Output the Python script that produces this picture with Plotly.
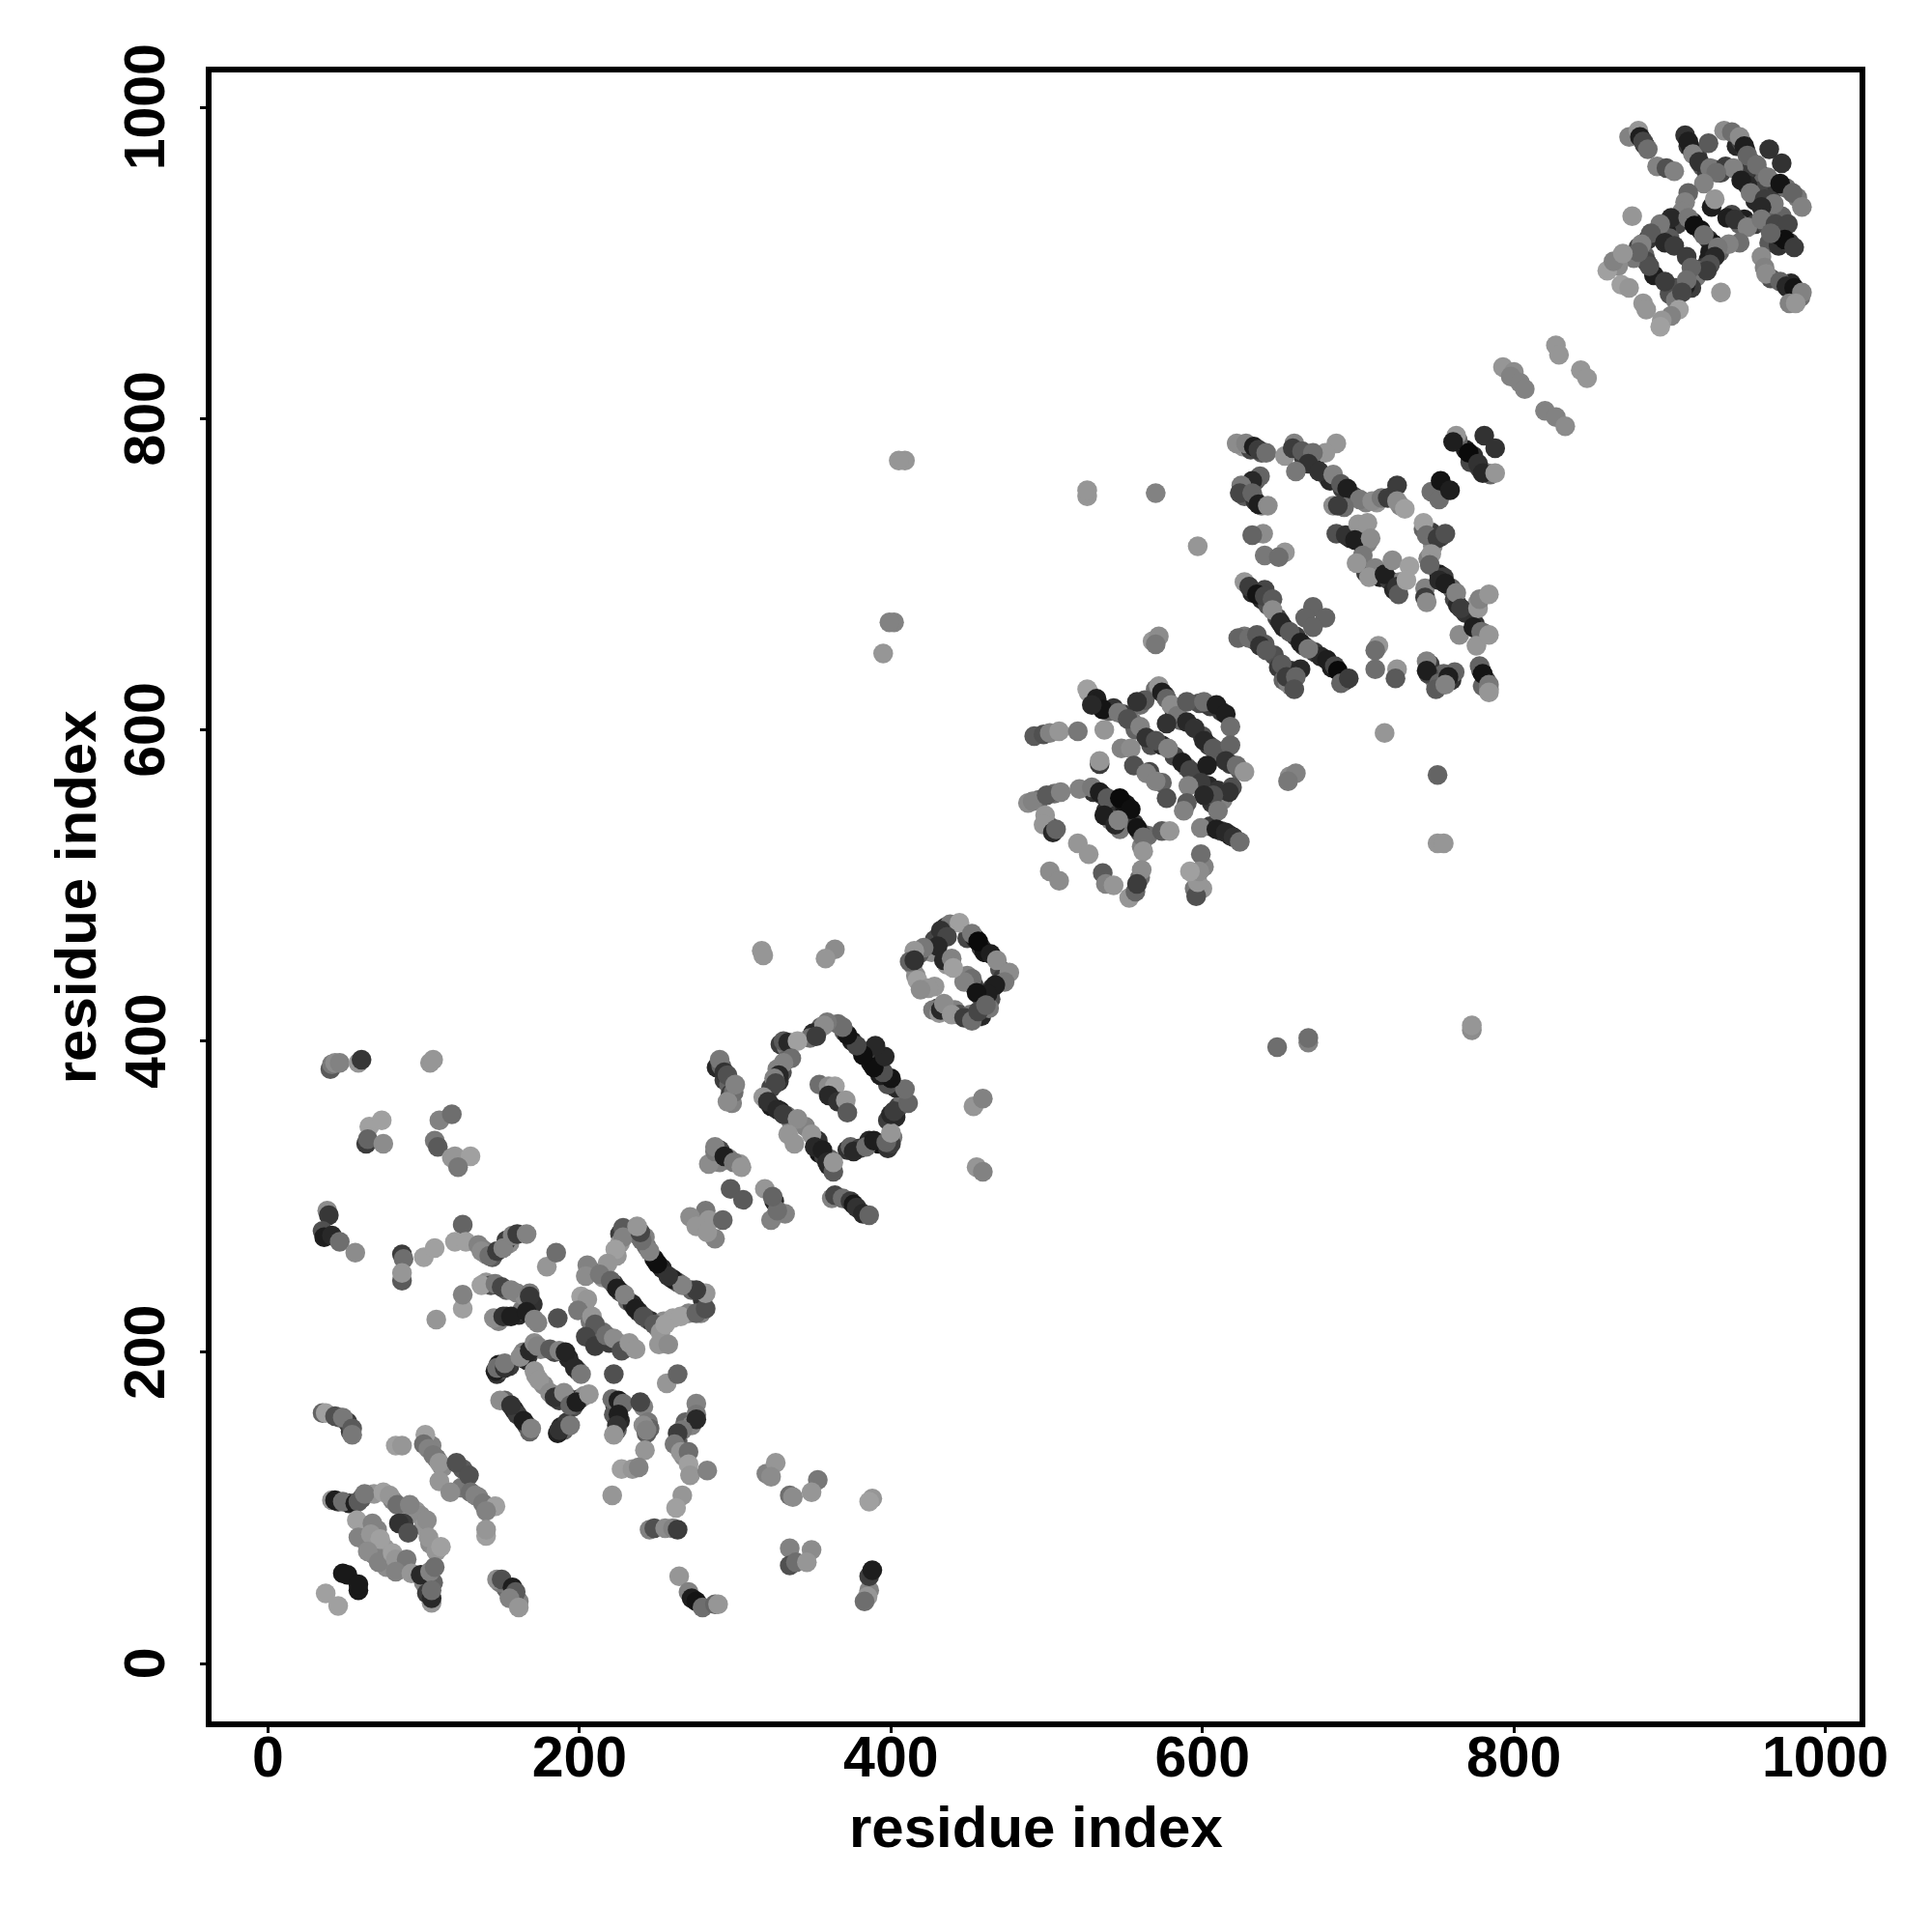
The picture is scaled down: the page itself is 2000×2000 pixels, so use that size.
import plotly.graph_objects as go

# (residue i, residue j, grey level of the dot)
block_a = [(40,382,90),(41,385,120),(43,386,140),(46,386,130),(58,386,150),(60,388,55),(104,386,150),(106,388,150),
(65,345,160),(73,349,160),(63,334,60),(64,337,100),(74,334,140),(110,349,130),(118,353,110),(107,336,120),(109,332,90),
(118,325,150),(120,326,150),(130,326,160),(122,319,120),
(38,291,140),(39,288,55),(35,278,80),(36,274,30),(41,275,40),(46,271,110),(56,264,140),
(86,263,60),(87,260,110),(86,246,90),(86,251,150),(100,261,160),(107,267,160),(125,282,100),(120,271,160),(127,271,160),
(135,269,130),(137,265,140),(142,262,110),(147,265,60),(151,267,130),(157,275,130),(160,276,60),(166,276,130),(179,255,150),(185,264,110),
(137,243,160),(146,244,120),(150,242,70),(156,240,130),(168,238,120),(168,236,55),(125,228,160),(125,237,130),(108,221,150),
(145,222,140),(151,223,50),(156,223,30),(166,226,30),(171,221,130),(186,222,80)]
block_b = [(228,280,90),(228,274,130),(223,266,160),(218,257,150),(205,256,130),(204,249,140),(213,250,120),(220,246,100),(224,241,30),
(229,237,130),(236,228,30),(241,223,80),(248,218,90),(252,213,150),(251,205,150),(257,205,140),(255,218,160),(265,223,160),(275,225,100),(281,228,80),(281,238,150),
(275,240,60),(266,243,130),(257,249,50),(250,257,15),(245,265,130),(240,272,110),(239,277,70),(237,281,150),
(201,236,160),(205,234,150),(199,227,120),(208,223,150),(210,218,90),(204,210,70),(210,204,60),(217,211,110),(222,209,140),(227,201,80),(232,206,150),(236,202,150),(222,186,80)]
block_c = [(146,188,30),(147,190,110),(152,190,50),(152,193,120),(165,198,30),(162,197,140),(168,201,40),(171,206,140),(173,204,130),(181,202,90),(187,201,130),(191,200,35),
(197,190,40),(201,186,120),(171,188,150),(174,182,150),(181,174,140),(184,171,50),(190,174,140),(194,166,100),(198,168,30),(206,173,150),
(149,169,140),(156,166,50),(164,156,30),(169,151,130),(186,148,30),(187,150,50),(194,153,120),(221,170,110),(225,169,30),(228,167,110),(225,160,30),(224,153,50),(222,147,150),
(239,168,70),(241,153,140),(243,148,90),(243,150,130),(242,137,150),(275,167,130),(275,160,120),(275,157,40),(266,150,120),(263,148,60),(261,141,120),(265,136,150),(270,136,110),
(270,128,160),(271,121,150),(282,124,130),(256,180,150),(263,186,100)]
block_d = [(35,161,100),(37,161,160),(43,159,80),(48,158,120),(54,151,90),(54,147,120),
(82,140,160),(86,140,150),(101,147,160),(100,141,110),(103,138,130),(106,134,120),(110,129,150),(121,129,80),(129,121,80),(110,117,150),(117,110,140),
(130,110,110),(133,108,130),(138,103,120),(146,101,160),(140,98,130),(140,82,160),(140,86,150),
(41,105,150),(43,105,30),(48,104,110),(56,103,30),(58,104,90),(62,109,120),(74,110,160),(78,108,150),(83,102,110),(91,102,130),(102,92,140),(103,81,150),(111,75,160),
(57,92,160),(67,90,130),(58,81,130),(66,83,150),(72,80,160),(84,90,50),(90,84,80),(64,72,140),(71,65,130),(80,71,160),(82,67,150),(89,67,120),(82,59,130),(92,58,150),
(98,57,40),(104,59,130),(107,62,110),(105,39,150),(105,42,40),(105,47,110),(48,58,25),(51,57,25),(58,47,25),(58,51,25),(37,45,160),(45,37,160),
(147,54,140),(150,54,80),(157,49,30),(159,46,90),(155,42,130),(161,36,150),
(227,125,160),(234,125,150),(238,126,130),(221,108,150),(266,108,150),(262,100,160),(245,86,130),(248,87,80),(255,87,140),(260,87,130),(263,86,60),
(264,56,150),(270,46,130),(272,42,30),(275,40,20),(279,36,110),(287,38,100),(289,38,150),
(320,122,130),(326,129,150),(323,120,140),(335,108,110),(337,107,140),(353,118,120),(349,110,150),(335,74,130),(349,73,140),(335,63,80),(339,65,110),(346,65,150),
(388,106,150),(386,104,160),(386,47,130),(385,43,150),(383,40,110),(386,56,60),(388,60,30)]
block_e = [(281,291,120),(271,287,140),(283,285,150),(275,281,150),(292,285,100),(287,273,130),(282,277,150),(283,321,140),(287,329,120),(295,325,130),(303,321,150),
(297,305,90),(305,298,90),(319,305,150),(325,297,40),(323,285,130),(332,289,130),(327,291,110),(324,300,100),
(290,388,120),(293,380,50),(295,378,80),(299,367,110),(295,361,140),(300,372,130),(287,332,130),(293,326,30),(299,322,120),(304,319,150),
(362,299,130),(364,301,70),(369,299,110),(374,297,60),(376,295,25),(378,293,50),(382,289,40),(386,288,100)]
block_f = [(331,400,90),(334,399,40),(340,400,160),(336,389,110),(331,386,130),(328,378,40),(325,376,130),(326,373,70),(318,364,150),(321,361,50),(327,356,40),(331,353,60),
(340,350,140),(334,340,150),(338,334,150),(349,340,150),(351,332,40),(356,330,30),(359,322,40),(363,316,90),(363,322,150),(376,329,40),(384,332,110),(389,336,30),(400,334,60),(397,335,100),(400,341,150),
(400,353,40),(402,355,60),(411,360,100),(409,369,110),(400,376,20),(395,380,80),(389,383,15),(396,390,40),(390,397,40),(382,391,15),(378,397,70),(372,404,20),(369,409,110),(359,412,120),(357,410,140),(352,403,60),
(354,372,110),(360,371,140),(364,371,160),(360,365,40),(366,361,50),(371,362,150),(372,354,90),
(317,458,150),(318,455,150),(364,459,140),(358,453,150),(453,358,150),(459,363,130),(455,319,150),(459,316,130)]
block_g = [(438,475,120),(444,476,160),(432,471,50),(436,467,70),(430,461,40),(421,460,120),(415,458,150),(412,451,100),(415,452,50),(452,469,120),(456,464,10),(464,456,30),(468,452,140),
(476,444,140),(473,438,120),(467,436,30),(462,430,30),(452,440,110),(447,438,130),(455,431,20),(434,452,40),(439,453,130),(440,447,160),(417,439,160),(424,434,150),(419,433,140),
(432,420,40),(434,424,140),(439,417,150),(447,415,60),(452,413,110),(456,419,70),(461,423,100)]
block_h = [(527,624,150),(526,626,160),(532,620,30),(536,613,20),(529,616,40),(546,611,120),(552,607,80),(560,602,130),(563,619,90),(558,618,50),(572,628,150),(574,624,30),(577,620,100),
(580,616,140),(584,609,120),(590,605,40),(577,604,50),(590,618,90),(601,618,110),(609,616,30),(615,610,30),(618,602,110),(595,601,50),(601,593,40),(607,588,90),(618,590,100),
(615,580,50),(622,577,110),(627,573,150),(564,595,50),(570,593,80),(578,588,130),(587,579,30),(592,574,70),(603,577,30),(599,566,60),(591,564,130),(619,563,80),(617,560,50),
(607,558,80),(601,558,40),(610,548,120),(590,553,90),(588,548,130),(599,537,130),(609,536,30),(615,534,40),(620,531,50),(624,528,110),
(599,520,110),(596,493,80),(597,502,150),(598,509,140),(592,509,160),
(492,596,90),(498,597,80),(502,598,130),(508,599,150),(520,599,120),(537,600,150),(548,588,130),(554,588,140),(534,578,60),(534,580,150),
(556,577,80),(566,573,70),(564,572,130),(574,566,100),(577,556,80),(570,567,130),
(491,554,130),(500,558,90),(509,560,130),(521,562,130),(529,563,120),(534,560,30),(539,556,90),(547,556,10),(554,549,15),(537,545,30),(544,539,40),(546,542,130),(558,537,20),(562,531,110),
(562,522,150),(561,510,140),(553,492,150),(557,496,100),(558,501,60),(499,545,150),(498,539,150),(504,534,40),(506,536,100),
(520,527,150),(527,520,150),(502,509,140),(508,503,140),(536,508,90),(538,501,130),(543,500,150),(574,535,90),(579,535,150)]
block_i = [(622,784,140),(628,784,130),(633,782,30),(636,780,60),(641,778,110),(653,776,150),(659,784,130),(658,781,60),(664,779,90),(686,784,150),(679,778,150),(671,778,110),
(668,771,50),(660,766,120),(675,766,50),(684,764,130),(689,758,90),(693,755,30),(701,748,120),(709,747,140),(715,749,120),(719,749,60),(725,757,60),(725,747,140),(730,742,160),
(684,744,140),(691,743,110),(687,744,60),(637,763,100),(632,760,40),(625,757,120),(624,752,70),(632,752,100),(636,745,30),(642,744,140),
(639,726,140),(632,725,100),(640,712,120),(653,714,150),(649,711,110),
(686,726,80),(692,725,50),(700,732,150),(706,733,150),(698,722,30),(708,723,140),(703,712,120),(699,707,150),(711,704,130),(707,698,150),(717,700,30),(722,709,140),(733,705,160),(725,692,50),(726,687,90),(731,696,160),
(742,733,160),(744,725,110),(751,723,60),(756,726,80),(747,713,150),(746,706,100),(743,691,130),(743,685,60),(744,682,140),
(752,696,40),(756,694,30),(763,688,130),(766,678,60),(777,678,150),(778,684,130),(784,687,150),(765,661,140),(774,666,30),(779,663,110),(776,654,150),(784,661,150),
(763,789,150),(761,785,30),(771,778,10),(777,771,50),(780,765,40),(788,765,150),(781,789,50),(788,781,50),(747,753,110),(752,748,110),(753,760,20),(759,754,30),
(627,695,150),(630,692,60),(635,687,20),(640,686,70),(645,684,90),(645,677,140),(650,669,40),(656,663,90),(663,656,30),(668,652,120),(680,645,30),(685,641,70),(687,638,10),(689,630,100),(694,633,60),
(623,659,100),(630,659,110),(635,661,90),(637,654,50),(641,651,90),(651,642,90),(654,634,60),(663,639,40),(660,634,100),(659,626,80),
(671,679,100),(666,672,100),(679,672,100),(671,666,100),(713,654,150),(711,651,110),(711,639,110),(725,639,150),(724,633,90),
(744,644,130),(744,638,30),(752,630,100),(750,626,90),(762,637,100),(758,634,30),(756,629,130),(778,641,100),(780,636,20),(784,629,120),(784,624,150)]
block_j = [(874,981,130),(880,985,150),(881,981,30),(883,978,70),(886,973,110),(892,962,130),(898,961,80),(903,959,130),
(910,982,50),(912,978,30),(915,970,130),(925,977,90),(935,985,140),(940,984,110),(945,981,140),(948,975,30),(950,969,100),(956,963,110),(964,973,50),(972,964,50),(919,965,50),(926,961,120),
(936,962,60),(941,961,130),(930,958,110),(946,953,30),(963,955,120),(971,951,20),(979,945,100),(985,936,130),(952,945,120),(961,941,60),(967,938,120),(959,936,40),
(922,951,130),(927,936,30),(929,941,150),(912,945,100),(910,939,130),(908,933,130),(901,929,40),(894,925,120),(888,919,90),(882,912,130),(897,913,40),(903,911,60),
(937,929,30),(942,928,50),(950,923,130),(959,928,120),(968,925,70),(976,925,70),(974,915,15),(980,910,60),(965,919,100),
(912,929,120),(916,924,15),(922,918,110),(945,913,110),(938,912,130),(931,910,120),(929,904,40),(926,899,80),(924,895,60),(911,904,60),(914,897,100),(911,889,110),(908,881,70),(897,888,60),(887,898,80),(880,907,100),
(860,895,160),(864,901,130),(870,906,150),(869,886,160),(874,884,150),(883,874,150),(885,870,150),(906,870,160),(901,866,130),(895,863,150),(894,859,160),(933,881,150),(876,930,150),
(959,904,140),(961,897,130),(962,893,140),(971,888,100),(975,885,40),(980,884,20),(985,881,130),(977,874,130),(981,874,150)]
block_k = [(793,833,150),(800,830,140),(798,827,130),(804,823,130),(807,819,130),(827,847,150),(829,841,150),(843,831,150),(847,826,150),(820,805,130),(827,801,130),(833,795,140),
(717,598,150),(751,571,100),(751,527,150),(755,527,150),(656,570,140),(660,572,130),(655,567,120),(648,396,110),(668,399,130),(668,402,110),(773,407,140),(773,410,150),
(570,752,130),(526,750,150),(526,754,150),(597,718,150),(409,773,150),(405,773,150),(402,669,130),(399,669,130),(395,649,150),(568,657,150),(572,660,140),(570,655,120)]

# dots hidden in the overlap along the strands, read from the thickness of each strand; drawn first
under_low = [(45,104,60),(52,103,40),(60,106,90),(68,109,150),(80,105,130),(87,100,150),(95,98,150),(98,95,140),(100,88,150),(104,77,140),(108,72,150),(62,87,150),(63,78,140),(70,86,130),(75,74,150),
(68,70,130),(76,62,140),(86,64,130),(87,90,60),(100,52,130),(102,45,60),(106,52,100),(161,40,130),(158,44,50),(153,48,100),(149,52,120),(105,140,130),(108,132,110),(112,126,140),(125,125,90),(135,107,130),(128,112,140),
(142,100,140),(124,113,120),(51,155,60),(46,158,90),(53,149,60),(153,223,80),(148,220,130),(161,224,40),(163,227,120),(168,228,30),(173,219,130),(140,245,150),(143,243,80),(153,240,100),(160,238,130),(165,236,140),(170,231,50),
(138,266,130),(140,263,140),(144,261,90),(155,270,140),(153,272,60),(147,186,50),(148,192,30),(150,189,100),(155,191,60),(164,200,130),(166,195,40),(167,198,50),(175,202,130),(184,200,70),(193,196,40),(199,188,120),(172,185,150),
(177,179,140),(183,172,100),(187,169,60),(192,171,40),(196,165,80),(200,170,60),(203,172,140),(152,169,100),(158,163,30),(160,160,60),(166,153,60),(168,149,100),(188,152,40),(190,150,100),(192,155,60),
(223,165,60),(222,160,90),(226,156,40),(224,150,100),(241,165,130),(244,155,120),(245,151,100),(268,155,100),(272,153,130),(263,143,90),(267,133,140),
(208,252,120),(215,248,150),(222,244,60),(226,239,70),(231,233,110),(234,231,40),(238,226,50),(244,221,110),(246,220,50),(250,216,120),(254,220,140),(260,222,160),(270,225,130),(278,225,130),(279,234,50),(272,240,100),(263,245,90),
(260,247,30),(253,254,40),(248,260,20),(243,268,110),(238,275,120),(230,277,110),(226,276,60),(226,270,150),(224,262,150),(242,274,130),(203,230,150),(207,220,120),(215,213,110),(219,206,60),(228,205,130),(230,203,120)]
under_mid = [(329,398,60),(333,396,120),(323,370,70),(320,362,40),(323,358,30),(329,355,20),(333,352,110),(336,348,120),(345,345,130),(353,336,50),(354,328,20),(357,326,60),(360,320,30),(361,324,100),(372,330,50),(374,332,100),
(380,331,60),(386,336,40),(392,334,20),(398,331,50),(401,338,120),(398,349,60),(403,351,40),(405,358,70),(408,363,110),(403,370,40),(398,372,80),(393,378,30),(387,386,20),(384,393,60),(375,400,30),(370,406,90),(366,411,110),(355,409,90),
(350,405,40),(348,402,110),(330,380,80),(333,388,100),(327,382,130),(328,374,50),(288,383,40),(291,384,100),(293,375,60),(296,372,100),(297,366,60),(298,360,130),(290,330,70),(296,324,70),(290,322,130),
(428,465,70),(433,468,90),(435,473,40),(426,457,140),(418,456,90),(414,449,130),(449,466,70),(454,466,30),(458,460,60),(460,457,20),(470,446,80),(472,441,60),(465,434,50),(458,428,70),(464,427,80),(449,442,130),(453,436,60),(436,449,150),
(428,435,150),(430,421,60),(441,420,130),(444,417,80),(451,417,120),(458,416,40),(463,421,120),(427,420,120),(431,418,150),(416,442,140),
(530,618,60),(534,615,130),(540,612,100),(543,614,50),(549,610,60),(555,605,120),(557,600,100),(560,616,110),(570,626,110),(576,622,60),(582,612,60),(586,606,100),(598,617,80),(605,615,60),(612,612,60),(600,596,80),(604,590,60),(610,586,50),
(613,582,100),(618,578,60),(624,574,90),(567,590,80),(574,590,40),(582,583,70),(590,576,100),(596,570,80),(604,564,40),(610,561,50),(613,555,130),(606,553,50),(605,538,60),(612,535,80),(618,532,30),(565,532,110),(561,525,130),(560,505,110),
(530,560,50),(536,558,70),(540,552,40),(542,545,30),(548,548,30),(551,552,20),(552,542,100),(556,540,60),(560,534,80),(538,548,50),(547,536,120),(541,542,130),(601,512,130),(596,507,140),(600,498,150),(595,498,120),(495,555,110),(488,553,140),
(505,559,110),(500,540,140),(503,537,70)]
under_high = [(626,782,150),(631,780,70),(638,778,90),(630,756,40),(627,750,90),(634,747,50),(638,744,120),(634,760,90),(665,775,60),(672,770,40),(680,763,100),(682,760,40),(690,755,60),(697,750,70),(705,746,130),(712,746,150),(722,750,100),(727,744,130),
(640,690,70),(632,688,40),(638,684,40),(642,680,80),(648,672,70),(652,666,40),(660,660,60),(665,654,60),(672,650,60),(676,647,40),(683,640,30),(692,632,40),(627,660,120),(633,658,60),(640,655,90),(646,648,80),(649,640,60),(652,632,100),
(657,628,100),(657,638,50),(655,630,130),(698,726,30),(695,723,40),(702,720,40),(706,720,130),(705,701,60),(714,698,30),(720,696,60),(727,695,130),(723,690,40),(742,729,100),(747,727,60),(753,724,70),(748,718,140),(745,710,130),(752,700,30),
(755,698,60),(760,691,100),(762,684,70),(764,680,40),(769,675,50),(775,668,50),(777,664,70),(781,662,140),(777,682,150),(769,780,30),(774,776,50),(772,772,70),(778,768,60),(783,765,130),(785,764,100),(764,786,100),
(746,642,60),(748,634,50),(754,632,40),(755,636,100),(760,632,50),(750,630,120),(779,638,40),(782,632,60),(780,628,100),(784,626,130),(745,636,70),
(884,976,50),(912,975,60),(914,973,30),(918,968,60),(921,962,90),(924,958,60),(928,960,40),(933,958,70),(943,975,40),(946,978,70),(949,972,60),(952,965,80),(955,960,130),(958,957,50),(960,952,100),(965,952,30),(968,948,60),(975,948,110),(982,942,120),
(955,940,40),(957,946,70),(963,933,50),(960,930,100),(972,930,100),(948,958,60),(950,950,40),(905,925,70),(898,920,30),(891,918,60),(886,915,50),(880,910,70),(900,916,90),(884,905,100),(915,926,30),(920,921,20),(925,915,50),(932,907,100),
(928,912,20),(926,907,30),(925,902,30),(922,897,60),(920,895,100),(917,891,120),(914,884,60),(910,885,30),(904,884,80),(900,880,80),(904,876,120),(890,892,30),(885,901,70),(877,903,120),(867,898,140),(948,928,30),(940,931,70),(945,925,100),
(955,925,60),(962,925,80),(964,913,90),(970,911,50),(970,918,20),(977,913,60),(976,884,60),(984,878,110),(978,887,40),(965,890,80)]

tick_values = [0, 200, 400, 600, 800, 1000]
axis_label = "residue index"

contacts = (under_low + under_mid + under_high + block_a + block_b + block_c + block_d + block_e + block_f
            + block_g + block_h + block_i + block_j + block_k)

fig = go.Figure(go.Scatter(
    x=[c[0] for c in contacts], y=[c[1] for c in contacts], mode="markers",
    marker=dict(size=20.5, color=[f"rgb({c[2]},{c[2]},{c[2]})" for c in contacts], line=dict(width=0)),
    hoverinfo="skip"))

tick_font = dict(family="Liberation Sans", size=59, color="black", weight="bold")
title_font = dict(family="Liberation Sans", size=60, color="black", weight="bold")
common = dict(showgrid=False, zeroline=False, showline=True, mirror=True, linecolor="black", linewidth=6,
              ticks="outside", ticklen=6, tickwidth=3, tickcolor="black", tickvals=tick_values, tickfont=tick_font)
y_tick_labels = [dict(text=str(v), font=tick_font, showarrow=False, textangle=-90, xref="paper", yref="y",
                      x=-0.0403, y=v, xanchor="center", yanchor="middle") for v in tick_values]
fig.update_layout(
    width=2000, height=2000, autosize=False, showlegend=False,
    paper_bgcolor="white", plot_bgcolor="white",
    margin=dict(l=219, r=75, t=75, b=218, pad=0),
    xaxis=dict(range=[-36.3, 1022], ticklabelstandoff=-26, **common),
    yaxis=dict(range=[-37.2, 1022.4], showticklabels=False, **common),
    annotations=y_tick_labels + [
        dict(text=axis_label, font=title_font, showarrow=False, xref="paper", yref="paper", x=0.5, y=-0.064, yanchor="middle", xanchor="center"),
        dict(text=axis_label, font=title_font, showarrow=False, textangle=-90, xref="paper", yref="paper", x=-0.0822, y=0.5, yanchor="middle", xanchor="center"),
    ],
)
fig.write_html("out.html", config=dict(displayModeBar=False), post_script="document.body.style.margin='0';")
